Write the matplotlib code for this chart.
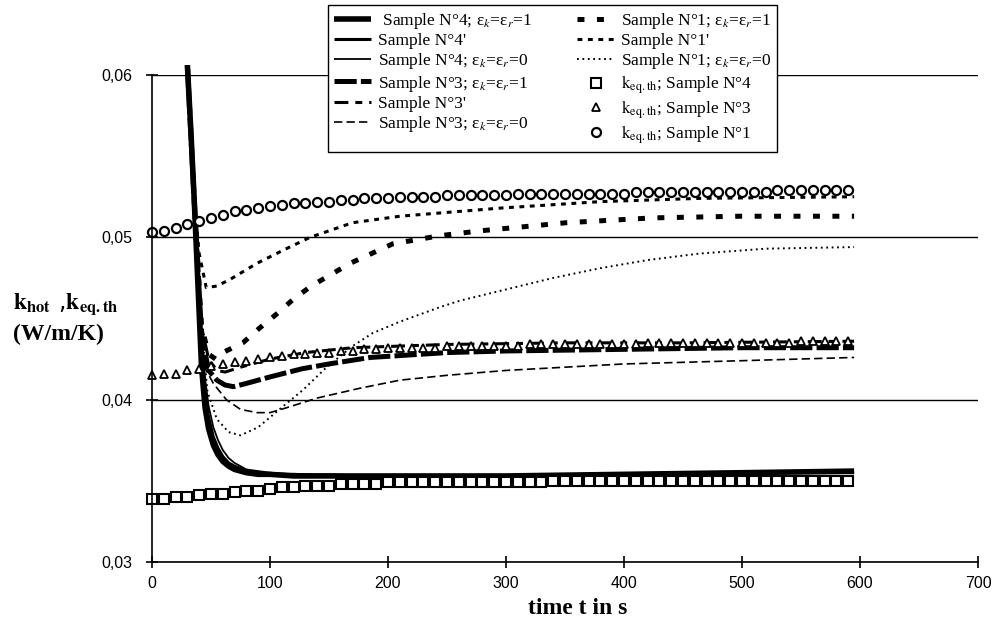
import numpy as np
import matplotlib
matplotlib.use("Agg")
import matplotlib.pyplot as plt
from matplotlib.ticker import FixedLocator

plt.rcParams['mathtext.fontset'] = 'stix'
plt.rcParams['lines.scale_dashes'] = False

# --- data (t in s, k in W/m/K) ---
# k_eq.th series, one marker every 10 s
t_eq = [0, 10, 20, 30, 40, 50, 60, 70, 80, 90,
        100, 110, 120, 130, 140, 150, 160, 170, 180, 190,
        200, 210, 220, 230, 240, 250, 260, 270, 280, 290,
        300, 310, 320, 330, 340, 350, 360, 370, 380, 390,
        400, 410, 420, 430, 440, 450, 460, 470, 480, 490,
        500, 510, 520, 530, 540, 550, 560, 570, 580, 590]
keq_n1 = [0.0503, 0.0504, 0.0506, 0.0508, 0.0510, 0.0512, 0.0514, 0.0516, 0.0517, 0.0518,
          0.0519, 0.0520, 0.0521, 0.0521, 0.0522, 0.0522, 0.0523, 0.0523, 0.0524, 0.0524,
          0.0524, 0.0525, 0.0525, 0.0525, 0.0525, 0.0526, 0.0526, 0.0526, 0.0526, 0.0526,
          0.0526, 0.0527, 0.0527, 0.0527, 0.0527, 0.0527, 0.0527, 0.0527, 0.0527, 0.0527,
          0.0527, 0.0528, 0.0528, 0.0528, 0.0528, 0.0528, 0.0528, 0.0528, 0.0528, 0.0528,
          0.0528, 0.0528, 0.0528, 0.0529, 0.0529, 0.0529, 0.0529, 0.0529, 0.0529, 0.0529]
keq_n3 = [0.0415, 0.0416, 0.0416, 0.0418, 0.0419, 0.0421, 0.0422, 0.0423, 0.0424, 0.0425,
          0.0426, 0.0427, 0.0428, 0.0428, 0.0429, 0.0429, 0.0430, 0.0430, 0.0431, 0.0431,
          0.0432, 0.0432, 0.0432, 0.0432, 0.0432, 0.0433, 0.0433, 0.0433, 0.0433, 0.0433,
          0.0433, 0.0433, 0.0434, 0.0434, 0.0434, 0.0434, 0.0434, 0.0434, 0.0434, 0.0434,
          0.0434, 0.0434, 0.0435, 0.0435, 0.0435, 0.0435, 0.0435, 0.0435, 0.0435, 0.0435,
          0.0435, 0.0435, 0.0435, 0.0435, 0.0435, 0.0436, 0.0436, 0.0436, 0.0436, 0.0436]
keq_n4 = [0.0339, 0.0339, 0.0340, 0.0340, 0.0341, 0.0342, 0.0342, 0.0343, 0.0344, 0.0344,
          0.0345, 0.0346, 0.0346, 0.0347, 0.0347, 0.0347, 0.0348, 0.0348, 0.0348, 0.0348,
          0.0349, 0.0349, 0.0349, 0.0349, 0.0349, 0.0349, 0.0349, 0.0349, 0.0349, 0.0349,
          0.0349, 0.0349, 0.0349, 0.0349, 0.0350, 0.0350, 0.0350, 0.0350, 0.0350, 0.0350,
          0.0350, 0.0350, 0.0350, 0.0350, 0.0350, 0.0350, 0.0350, 0.0350, 0.0350, 0.0350,
          0.0350, 0.0350, 0.0350, 0.0350, 0.0350, 0.0350, 0.0350, 0.0350, 0.0350, 0.0350]

# k_hot, sample N°4 (solid lines)
t_n4 = [30, 33, 36, 39, 42, 45, 48, 52, 56, 60, 65, 70, 80, 90, 100, 120, 150, 200, 300, 400, 500, 595]
n4_e1 = [0.0606, 0.0565, 0.0520, 0.0470, 0.0420, 0.0395, 0.0382, 0.0372, 0.0366, 0.0362, 0.0359,
         0.0357, 0.0355, 0.0354, 0.0354, 0.0353, 0.0353, 0.0353, 0.0353, 0.0354, 0.0355, 0.0356]
n4_p = [0.0604, 0.0568, 0.0527, 0.0480, 0.0432, 0.0404, 0.0389, 0.0377, 0.0370, 0.0365, 0.0361,
        0.0359, 0.0356, 0.0355, 0.0354, 0.0354, 0.0353, 0.0353, 0.0353, 0.0354, 0.0355, 0.0355]
n4_e0 = [0.0602, 0.0570, 0.0532, 0.0490, 0.0443, 0.0413, 0.0396, 0.0383, 0.0375, 0.0369, 0.0364,
         0.0361, 0.0357, 0.0356, 0.0355, 0.0354, 0.0354, 0.0353, 0.0353, 0.0354, 0.0355, 0.0355]

# k_hot, sample N°3 (dashed lines)
t_n3_e1 = [30, 36, 42, 48, 55, 62, 69, 80, 100, 127, 150, 185, 250, 300, 400, 500, 595]
n3_e1 = [0.0606, 0.0520, 0.0440, 0.0418, 0.0412, 0.0409, 0.0408, 0.0410, 0.0414, 0.0419,
         0.0422, 0.0426, 0.0429, 0.0430, 0.0431, 0.0432, 0.0432]
t_n3_p = [30, 36, 42, 48, 55, 62, 75, 100, 130, 170, 250, 350, 450, 595]
n3_p = [0.0606, 0.0520, 0.0445, 0.0425, 0.0418, 0.0417, 0.0420, 0.0425, 0.0429, 0.0432,
        0.0434, 0.0435, 0.0435, 0.0436]
t_n3_e0 = [30, 36, 42, 46, 52, 63, 75, 89, 100, 114, 140, 176, 210, 250, 300, 400, 500, 595]
n3_e0 = [0.0606, 0.0520, 0.0435, 0.0418, 0.0410, 0.0400, 0.0394, 0.0392, 0.0392, 0.0395,
         0.0401, 0.0407, 0.0412, 0.0415, 0.0418, 0.0422, 0.0424, 0.0426]

# k_hot, sample N°1 (dotted / short dash lines)
t_n1_e1 = [30, 36, 42, 48, 54, 60, 77, 91, 106, 120, 135, 168, 204, 244, 278, 351, 425, 498, 595]
n1_e1 = [0.0606, 0.0520, 0.0445, 0.0428, 0.0425, 0.0429, 0.0435, 0.0444, 0.0453, 0.0462,
         0.0470, 0.0484, 0.0496, 0.0501, 0.0504, 0.0509, 0.0512, 0.0513, 0.0513]
t_n1_p = [30, 35, 40, 46, 55, 66, 89, 111, 134, 170, 210, 244, 295, 380, 464, 595]
n1_p = [0.0606, 0.0530, 0.0490, 0.0469, 0.0470, 0.0474, 0.0484, 0.0492, 0.0500, 0.0509,
        0.0513, 0.0515, 0.0518, 0.0522, 0.0524, 0.0525]
t_n1_e0 = [30, 36, 42, 47, 55, 65, 75, 90, 108, 128, 148, 170, 187, 210, 244, 261, 295,
           340, 380, 420, 464, 520, 595]
n1_e0 = [0.0606, 0.0520, 0.0445, 0.0405, 0.0388, 0.0380, 0.0378, 0.0383, 0.0394, 0.0406,
         0.0420, 0.0433, 0.0441, 0.0448, 0.0457, 0.0461, 0.0467, 0.0475, 0.0481, 0.0486,
         0.0490, 0.0493, 0.0494]

eps = 'ε$_k$=ε$_r$='
labels = [' Sample N°4; ' + eps + '1', 'Sample N°4\'', 'Sample N°4; ' + eps + '0',
          'Sample N°3; ' + eps + '1', 'Sample N°3\'', 'Sample N°3; ' + eps + '0',
          'Sample N°1; ' + eps + '1', 'Sample N°1\'', 'Sample N°1; ' + eps + '0',
          r'$\mathrm{k_{eq.th}}$; Sample N°4', r'$\mathrm{k_{eq.th}}$; Sample N°3',
          r'$\mathrm{k_{eq.th}}$; Sample N°1']

# --- figure ---
fig = plt.figure(figsize=(9.92, 6.33), dpi=100)
ax = fig.add_axes([0.1532, 0.1122, 0.8327, 0.7693])

kw = dict(color='black', clip_on=False, solid_capstyle='butt', dash_capstyle='butt')
h = []
h += ax.plot(t_n4, n4_e1, lw=4.0, **kw)
h += ax.plot(t_n4, n4_p, lw=2.2, **kw)
h += ax.plot(t_n4, n4_e0, lw=1.3, **kw)
h += ax.plot(t_n3_e1, n3_e1, lw=3.6, dashes=(16, 3), **kw)
h += ax.plot(t_n3_p, n3_p, lw=2.2, dashes=(10, 5, 5, 5), **kw)
h += ax.plot(t_n3_e0, n3_e0, lw=1.2, dashes=(6, 3), **kw)
h += ax.plot(t_n1_e1, n1_e1, lw=3.6, dashes=(5, 9), **kw)
h += ax.plot(t_n1_p, n1_p, lw=2.2, dashes=(3.5, 4), **kw)
h += ax.plot(t_n1_e0, n1_e0, lw=1.4, dashes=(1.3, 2.6), **kw)

mk = dict(ls='none', mfc='white', mec='black', clip_on=False)
h += ax.plot(t_eq, keq_n4, marker='s', ms=7, mew=1.5, **mk)
h += ax.plot(t_eq, keq_n3, marker='^', ms=5.5, mew=1.3, **mk)
h += ax.plot(t_eq, keq_n1, marker='o', ms=6.5, mew=1.6, **mk)

ax.set_xlim(0, 700)
ax.set_ylim(0.03, 0.06)
ax.xaxis.set_major_locator(FixedLocator([0, 100, 200, 300, 400, 500, 600, 700]))
ax.set_yticks([0.03, 0.04, 0.05, 0.06])
ax.set_yticklabels(['0,03', '0,04', '0,05', '0,06'])
ax.yaxis.grid(True, color='black', lw=1.0)
ax.set_axisbelow(True)
for s in ['top', 'right']:
    ax.spines[s].set_visible(False)
ax.spines['left'].set_linewidth(1.2)
ax.spines['bottom'].set_linewidth(1.2)
ax.tick_params(direction='inout', length=8, width=1.2, labelsize=11.5, pad=6)
ax.tick_params(axis='y', pad=10)
for lab in ax.get_xticklabels() + ax.get_yticklabels():
    lab.set_fontfamily('Liberation Sans')

ax.set_xlabel('time t in s', fontfamily='Liberation Serif', fontweight='bold',
              fontsize=17)
ax.xaxis.set_label_coords(0.515, -0.075)
fig.text(0.013, 0.52, r'$\mathbf{k_{hot}}$ ,$\mathbf{k_{eq.th}}$',
         fontsize=17, ha='left', va='center')
fig.text(0.013, 0.472, '(W/m/K)', fontfamily='Liberation Serif', fontweight='bold',
         fontsize=17, ha='left', va='center')

leg = fig.legend(h, labels, ncol=2, loc='upper left', bbox_to_anchor=(0.331, 0.992),
                 prop={'family': 'Liberation Serif', 'size': 12.5},
                 frameon=True, fancybox=False, framealpha=1, edgecolor='black',
                 handlelength=2.1, handletextpad=0.4, labelspacing=0.12,
                 columnspacing=2.6, borderpad=0.35, borderaxespad=0)
leg.get_frame().set_linewidth(1.0)

plt.savefig('out.png', dpi=100)
